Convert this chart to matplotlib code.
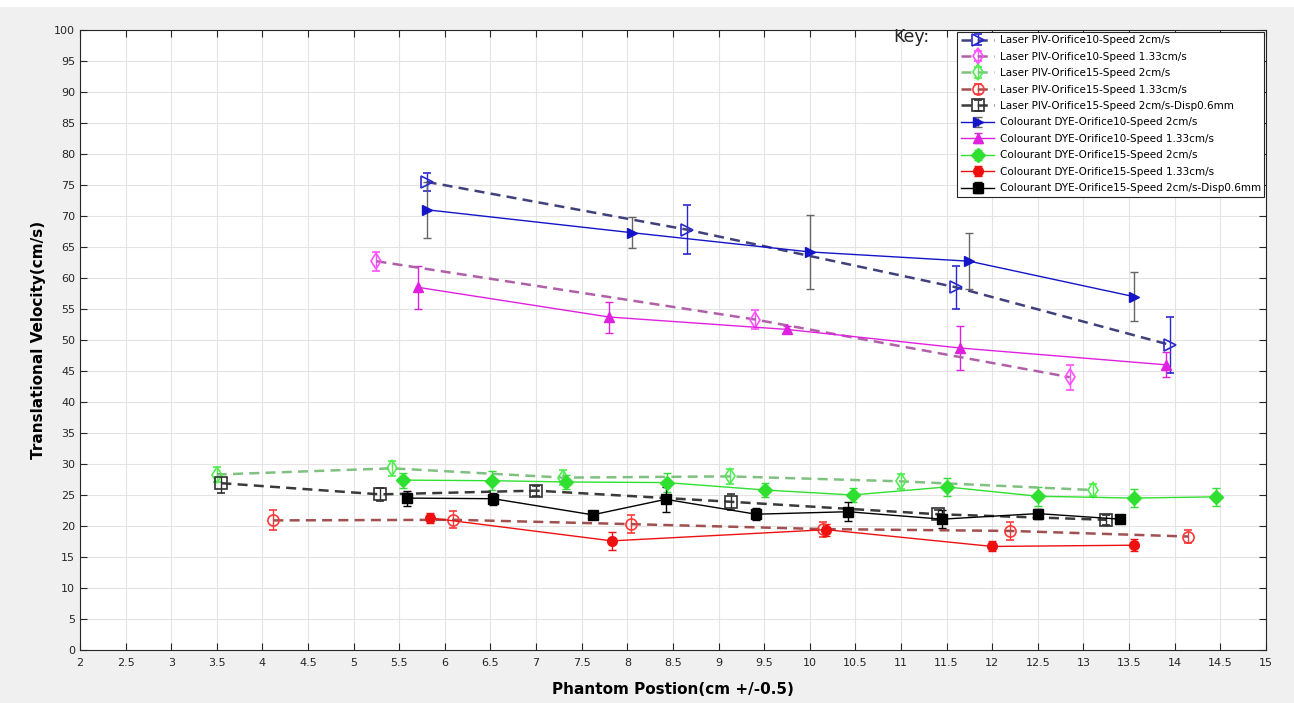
import matplotlib
matplotlib.use("Agg")
import matplotlib.pyplot as plt
from matplotlib.patches import Rectangle

# Laser PIV series (dashed, open markers)
piv_o10_s2_x = [5.8, 8.65, 11.6, 13.95]
piv_o10_s2_y = [75.5, 67.8, 58.5, 49.2]
piv_o10_s2_err = [1.5, 4.0, 3.5, 4.5]

piv_o10_s133_x = [5.25, 9.4, 12.85]
piv_o10_s133_y = [62.7, 53.3, 44.0]
piv_o10_s133_err = [1.5, 1.5, 2.0]

piv_o15_s2_x = [3.5, 5.42, 7.3, 9.12, 11.0, 13.1]
piv_o15_s2_y = [28.3, 29.3, 27.8, 28.0, 27.2, 25.8]
piv_o15_s2_err = [1.2, 1.2, 1.2, 1.2, 1.2, 1.0]

piv_o15_s133_x = [4.12, 6.09, 8.04, 10.15, 12.2, 14.15]
piv_o15_s133_y = [20.9, 21.0, 20.3, 19.5, 19.2, 18.3]
piv_o15_s133_err = [1.6, 1.4, 1.4, 1.2, 1.4, 1.0]

piv_o15_disp_x = [3.55, 5.29, 7.0, 9.14, 11.4, 13.25]
piv_o15_disp_y = [26.9, 25.1, 25.7, 23.9, 21.9, 21.0]
piv_o15_disp_err = [1.5, 1.0, 0.8, 1.3, 0.7, 0.8]

# Colourant DYE series (solid, filled markers)
dye_o10_s2_x = [5.8, 8.05, 10.0, 11.75, 13.55]
dye_o10_s2_y = [71.0, 67.3, 64.2, 62.7, 57.0]
dye_o10_s2_err = [4.5, 2.5, 6.0, 4.5, 4.0]

dye_o10_s133_x = [5.7, 7.8, 9.75, 11.65, 13.9]
dye_o10_s133_y = [58.5, 53.7, 51.7, 48.7, 46.0]
dye_o10_s133_err = [3.5, 2.5, 0.5, 3.5, 2.0]

dye_o15_s2_x = [5.54, 6.52, 7.33, 8.43, 9.51, 10.47, 11.5, 12.5, 13.55, 14.45]
dye_o15_s2_y = [27.4, 27.3, 27.1, 27.0, 25.8, 25.0, 26.3, 24.8, 24.5, 24.7]
dye_o15_s2_err = [1.2, 1.5, 1.2, 1.5, 1.2, 1.2, 1.5, 1.5, 1.5, 1.5]

dye_o15_s133_x = [5.84, 7.83, 10.18, 12.0, 13.55]
dye_o15_s133_y = [21.3, 17.6, 19.4, 16.7, 16.9]
dye_o15_s133_err = [0.8, 1.5, 1.0, 0.8, 1.0]

dye_o15_disp_x = [5.58, 6.53, 7.62, 8.42, 9.41, 10.42, 11.45, 12.5, 13.4]
dye_o15_disp_y = [24.5, 24.4, 21.8, 24.3, 21.9, 22.3, 21.1, 22.0, 21.1]
dye_o15_disp_err = [1.2, 1.0, 0.5, 2.0, 1.0, 1.5, 1.5, 0.8, 0.5]

labels = [
    'Laser PIV-Orifice10-Speed 2cm/s',
    'Laser PIV-Orifice10-Speed 1.33cm/s',
    'Laser PIV-Orifice15-Speed 2cm/s',
    'Laser PIV-Orifice15-Speed 1.33cm/s',
    'Laser PIV-Orifice15-Speed 2cm/s-Disp0.6mm',
    'Colourant DYE-Orifice10-Speed 2cm/s',
    'Colourant DYE-Orifice10-Speed 1.33cm/s',
    'Colourant DYE-Orifice15-Speed 2cm/s',
    'Colourant DYE-Orifice15-Speed 1.33cm/s',
    'Colourant DYE-Orifice15-Speed 2cm/s-Disp0.6mm',
]

# data, marker colour, dashed line colour, marker
piv_series = [
    (piv_o10_s2_x, piv_o10_s2_y, piv_o10_s2_err, '#2828d0', '#40407a', '>'),
    (piv_o10_s133_x, piv_o10_s133_y, piv_o10_s133_err, '#ff50ff', '#b060a8', 'd'),
    (piv_o15_s2_x, piv_o15_s2_y, piv_o15_s2_err, '#50ee50', '#80c080', 'd'),
    (piv_o15_s133_x, piv_o15_s133_y, piv_o15_s133_err, '#ff3838', '#a05050', 'o'),
    (piv_o15_disp_x, piv_o15_disp_y, piv_o15_disp_err, '#303030', '#3a3a3a', 's'),
]
dye_series = [
    (dye_o10_s2_x, dye_o10_s2_y, dye_o10_s2_err, '#1414c8', '#666666', '>'),
    (dye_o10_s133_x, dye_o10_s133_y, dye_o10_s133_err, '#e020e0', '#e020e0', '^'),
    (dye_o15_s2_x, dye_o15_s2_y, dye_o15_s2_err, '#30e030', '#30e030', 'D'),
    (dye_o15_s133_x, dye_o15_s133_y, dye_o15_s133_err, '#ee1010', '#ee1010', 'o'),
    (dye_o15_disp_x, dye_o15_disp_y, dye_o15_disp_err, '#000000', '#000000', 's'),
]

fig = plt.figure(figsize=(12.94, 7.03), dpi=100, facecolor='#f0f0f0')
fig.patches.append(Rectangle((0, 0.99), 1, 0.01, transform=fig.transFigure,
                             facecolor='white', edgecolor='none'))
ax = fig.add_axes([0.0618, 0.0754, 0.9165, 0.882])
ax.set_facecolor('white')

handles = []
for x, y, err, color, lcolor, marker in piv_series:
    h = ax.errorbar(x, y, yerr=err, color=lcolor, ecolor=color, elinewidth=1,
                    capsize=3, marker=marker, markersize=8, markerfacecolor='none',
                    markeredgecolor=color, markeredgewidth=1.2,
                    linestyle=(0, (4, 2.5)), linewidth=1.8)
    handles.append(h)

for x, y, err, color, ecolor, marker in dye_series:
    h = ax.errorbar(x, y, yerr=err, color=color, ecolor=ecolor,
                    elinewidth=1, capsize=3, marker=marker, markersize=7,
                    markerfacecolor=color, markeredgecolor=color, linewidth=1)
    handles.append(h)

ax.set_xlim(2, 15)
ax.set_ylim(0, 100)
ax.set_xticks([2 + 0.5 * i for i in range(27)])
ax.set_xticklabels(['%g' % (2 + 0.5 * i) for i in range(27)])
ax.set_yticks(range(0, 101, 5))
ax.tick_params(direction='in', labelsize=8, colors='#262626', length=5,
               top=True, right=True)
ax.tick_params(axis='x', pad=6)
ax.grid(True, color='#e4e4e4', linewidth=0.8)
ax.set_axisbelow(True)
for s in ax.spines.values():
    s.set_color('#262626')
    s.set_linewidth(0.8)

ax.set_xlabel('Phantom Postion(cm +/-0.5)', fontsize=11, fontweight='bold', labelpad=10)
ax.set_ylabel('Translational Velocity(cm/s)', fontsize=11, fontweight='bold', labelpad=6)

leg = ax.legend(handles, labels, loc='upper right', fontsize=7.5, frameon=True,
                fancybox=False, edgecolor='#262626', handlelength=3.2,
                handletextpad=0.5, labelspacing=0.62, borderaxespad=0.15,
                borderpad=0.35, framealpha=1)
leg.get_frame().set_linewidth(0.8)

fig.text(0.69, 0.947, 'Key:', fontsize=12.5, ha='left', va='center', color='#262626')

plt.savefig('out.png', dpi=100, facecolor=fig.get_facecolor())
plt.close()
